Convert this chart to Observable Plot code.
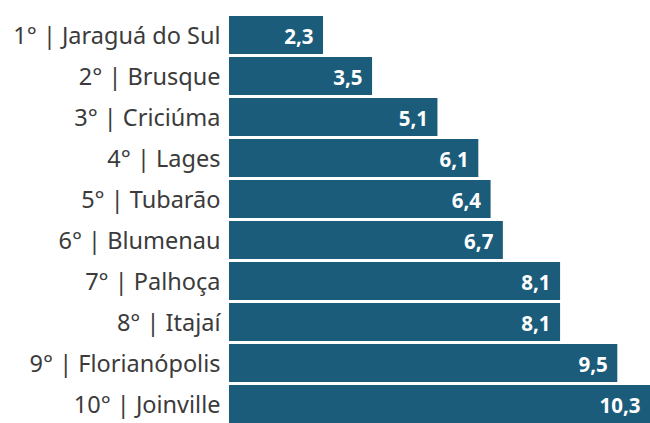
<!DOCTYPE html>
<html>
<head>
<meta charset="utf-8">
<script src="https://cdn.jsdelivr.net/npm/d3@7"></script>
<script src="https://cdn.jsdelivr.net/npm/@observablehq/plot@0.6"></script>
<style>
  html, body { margin: 0; padding: 0; background: #fff; }
  #chart { width: 650px; height: 423px; overflow: hidden; }
</style>
</head>
<body>
<div id="chart"></div>
<script>
const cities = ["1° | Jaraguá do Sul", "2° | Brusque", "3° | Criciúma", "4° | Lages", "5° | Tubarão",
                "6° | Blumenau", "7° | Palhoça", "8° | Itajaí", "9° | Florianópolis", "10° | Joinville"];
const values = [2.3, 3.5, 5.1, 6.1, 6.4, 6.7, 8.1, 8.1, 9.5, 10.3];

const data = cities.map((c, i) => ({city: c, value: values[i]}));
const fmt = v => v.toFixed(1).replace(".", ",");

const chart = Plot.plot({
  width: 650,
  height: 423,
  marginLeft: 229,
  marginRight: 0,
  marginTop: 0,
  marginBottom: 0,
  style: {fontFamily: "'Noto Sans', 'Open Sans', sans-serif", background: "#fff", overflow: "hidden"},
  x: {domain: [0, 10.3], range: [229, 650], axis: null},
  y: {domain: cities, range: [10.3, 428.3], paddingInner: 0.08, paddingOuter: 0.04, axis: null},
  marks: [
    Plot.barX(data, {x: "value", y: "city", fill: "#1b5c7b"}),
    Plot.text(data, {x: "value", y: "city", text: d => fmt(d.value), textAnchor: "end", dx: -10, dy: 2,
                     fill: "#fff", fontWeight: "bold", fontSize: 20.5}),
    Plot.text(data, {x: 0, y: "city", text: "city", textAnchor: "end", dx: -9, dy: 1,
                     fill: "#3b3b3b", fontSize: 23.5})
  ]
});
document.getElementById("chart").appendChild(chart);
</script>
</body>
</html>
